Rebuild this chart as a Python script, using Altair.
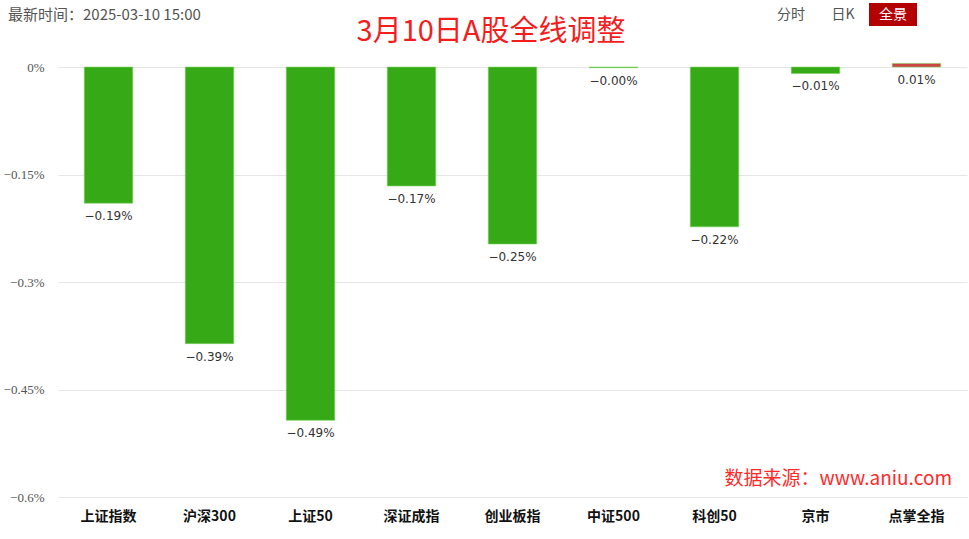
import altair as alt
import pandas as pd

categories = ["上证指数", "沪深300", "上证50", "深证成指", "创业板指", "中证500", "科创50", "京市", "点掌全指"]
values = [-0.19, -0.386, -0.493, -0.166, -0.247, -0.001, -0.223, -0.009, 0.005]
labels = ["−0.19%", "−0.39%", "−0.49%", "−0.17%", "−0.25%", "−0.00%", "−0.22%", "−0.01%", "0.01%"]
y_ticks = [0, -0.15, -0.3, -0.45, -0.6]
y_tick_labels = ["0%", "−0.15%", "−0.3%", "−0.45%", "−0.6%"]

df = pd.DataFrame({"cat": categories, "val": values, "label": labels})
df["color"] = ["#cc4444" if v > 0 else "#35a916" for v in values]
df["labpos"] = [min(v, 0) for v in values]

ylabel_expr = " : ".join(
    f"datum.value == {t} ? '{l}'" for t, l in zip(y_ticks, y_tick_labels)
) + " : ''"

xenc = alt.X("cat:N", sort=categories, title=None,
             scale=alt.Scale(paddingInner=0.52, paddingOuter=0.26),
             axis=alt.Axis(labelAngle=0, labelFontWeight="bold", labelFontSize=14, labelColor="#111",
                           labelFont="Noto Sans CJK SC", ticks=False, domain=False, labelPadding=12, grid=False))
yscale = alt.Scale(domain=[-0.6, 0], nice=False, zero=False, clamp=False)

bars = alt.Chart(df).mark_bar(stroke="#7fd35e", strokeWidth=0.6).encode(
    x=xenc,
    y=alt.Y("val:Q", scale=yscale, title=None,
            axis=alt.Axis(values=y_ticks, labelExpr=ylabel_expr, domain=False, ticks=False,
                          labelPadding=14, labelFont="Liberation Serif", labelFontSize=13,
                          labelColor="#555", gridColor="#e6e6e6", gridWidth=1)),
    y2=alt.datum(0),
    color=alt.Color("color:N", scale=None),
)

texts = alt.Chart(df).mark_text(baseline="top", dy=8, fontSize=12, color="#333",
                                font="DejaVu Sans").encode(
    x=alt.X("cat:N", sort=categories),
    y=alt.Y("labpos:Q", scale=yscale),
    text="label:N",
)

one = pd.DataFrame({"a": [0]})

def txt(s, x, y, size, color, align="center", weight="normal", font="Noto Sans CJK SC"):
    return alt.Chart(one).mark_text(text=s, align=align, baseline="middle", fontSize=size,
                                    color=color, fontWeight=weight, font=font).encode(
        x=alt.value(x), y=alt.value(y))

header = txt("最新时间：2025-03-10 15:00", -50, -52, 15, "#555", align="left")
title = txt("3月10日A股全线调整", 433, -35, 29, "#f41d1d")
b1 = txt("分时", 733, -52, 14, "#555")
b2 = txt("日K", 785, -52, 14, "#555")
box = alt.Chart(one).mark_rect(color="#b30000").encode(
    x=alt.value(811), x2=alt.value(859), y=alt.value(-64), y2=alt.value(-41))
b3 = txt("全景", 835, -52, 14, "#ffffff")
water = txt("数据来源：www.aniu.com", 894, 412, 19, "#ff2a2a", align="right")

chart = alt.layer(bars, texts, header, title, b1, b2, box, b3, water).properties(
    width=909, height=430,
    background="#ffffff",
    autosize=alt.AutoSizeParams(type="none"),
    padding={"left": 58, "top": 67, "right": 2, "bottom": 42},
).configure_view(stroke=None)

chart.save("out.html", embed_options={"renderer": "svg", "actions": False})
